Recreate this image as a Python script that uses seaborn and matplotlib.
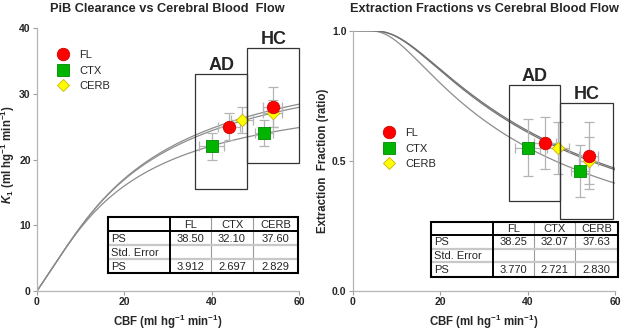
import numpy as np
import pandas as pd
import seaborn as sns
import matplotlib
matplotlib.use("Agg")
import matplotlib.pyplot as plt
from matplotlib.lines import Line2D
from matplotlib.patches import Rectangle
import matplotlib.transforms as mtransforms

# ---------------- data ----------------
regions = ["FL", "CTX", "CERB"]
pt_group = ["AD", "AD", "AD", "HC", "HC", "HC"]
pt_region = ["FL", "CTX", "CERB", "FL", "CTX", "CERB"]
pt_cbf = [44.0, 40.0, 46.9, 54.0, 52.0, 54.0]
pt_cbf_err = [2.5, 2.8, 2.5, 2.2, 2.1, 2.2]
pt_k1 = [25.0, 22.0, 26.0, 28.0, 24.0, 27.0]
pt_k1_err = [2.0, 2.0, 2.0, 3.0, 2.0, 2.0]
pt_ef = [0.57, 0.55, 0.55, 0.52, 0.46, 0.50]
pt_ef_err = [0.10, 0.11, 0.10, 0.13, 0.10, 0.09]

ps_k1 = [38.50, 32.10, 37.60]
se_k1 = [3.912, 2.697, 2.829]
ps_ef = [38.25, 32.07, 37.63]
se_ef = [3.770, 2.721, 2.830]

# group boxes (CBF range, value range)
box_groups = ["AD", "HC"]
k1_box_x = [(36.2, 48.2), (48.2, 60.1)]
k1_box_y = [(15.5, 33.0), (19.4, 37.0)]
ef_box_x = [(35.7, 47.5), (47.5, 59.5)]
ef_box_y = [(0.347, 0.791), (0.277, 0.721)]

# ---------------- style ----------------
sns.set_style("ticks")
plt.rcParams["font.family"] = ["Liberation Sans", "DejaVu Sans"]
plt.rcParams["mathtext.fontset"] = "custom"
plt.rcParams["mathtext.rm"] = "Liberation Sans:bold"
plt.rcParams["mathtext.it"] = "Liberation Sans:italic:bold"
plt.rcParams["mathtext.bf"] = "Liberation Sans:bold"

colors = {"FL": "#ff0000", "CTX": "#00b400", "CERB": "#ffff00"}
edges = {"FL": "#d00000", "CTX": "#008a00", "CERB": "#c8b400"}
markers = {"FL": "o", "CTX": "s", "CERB": "D"}
msize = {"FL": 80, "CTX": 85, "CERB": 40}

W, H = 624, 330
fig = plt.figure(figsize=(W / 100, H / 100), dpi=100)
ax1 = fig.add_axes([37 / W, 1 - 291 / H, 262 / W, 263 / H])
ax2 = fig.add_axes([352.7 / W, 1 - 291 / H, 262.3 / W, 260.3 / H])

pts = pd.DataFrame({"group": pt_group, "region": pt_region, "CBF": pt_cbf,
                    "CBF_err": pt_cbf_err, "K1": pt_k1, "K1_err": pt_k1_err,
                    "EF": pt_ef, "EF_err": pt_ef_err})

F = np.linspace(0.05, 60, 400)
curve_rows = []
for r, pk, pe in zip(regions, ps_k1, ps_ef):
    for f in F:
        curve_rows.append({"region": r, "CBF": f,
                           "K1": f * (1 - np.exp(-pk / f)),
                           "EF": 1 - np.exp(-pe / f)})
curves = pd.DataFrame(curve_rows)

TICK_FS = 7.5


def draw_panel(ax, ycol, ecol, box_x, box_y, line_colors):
    sns.lineplot(data=curves, x="CBF", y=ycol, hue="region",
                 palette=line_colors, legend=False, ax=ax, lw=0.9, zorder=2)
    ax.errorbar(pts["CBF"], pts[ycol], xerr=pts["CBF_err"], yerr=pts[ecol],
                fmt="none", ecolor="#b4b4b4", elinewidth=0.9, capsize=3.6,
                capthick=0.9, zorder=3)
    for r in ["CERB", "CTX", "FL"]:
        sub = pts[pts["region"] == r]
        sns.scatterplot(data=sub, x="CBF", y=ycol, marker=markers[r],
                        color=colors[r], edgecolor=edges[r], linewidth=0.6,
                        s=msize[r], ax=ax, zorder=4, legend=False)
    for g, (x0, x1), (y0, y1) in zip(box_groups, box_x, box_y):
        ax.add_patch(Rectangle((x0, y0), x1 - x0, y1 - y0, fill=False,
                               edgecolor="#333333", lw=0.9, zorder=5,
                               clip_on=False))
        ax.annotate(g, xy=((x0 + x1) / 2, y1), xytext=(0, 3),
                    textcoords="offset points", ha="center", va="baseline",
                    fontsize=13, fontweight="bold", annotation_clip=False)
    ax.set_xlim(0, 60)
    ax.set_xticks([0, 20, 40, 60])
    sns.despine(ax=ax)
    for s in ["left", "bottom"]:
        ax.spines[s].set_color("#b5b5b5")
        ax.spines[s].set_linewidth(0.9)
    ax.tick_params(length=3, width=0.8, color="#a0a0a0", labelsize=TICK_FS,
                   pad=1.5)
    ax.set_xlabel(r"CBF (ml hg$^{-1}$ min$^{-1}$)", fontsize=8.3,
                  fontweight="bold")


draw_panel(ax1, "K1", "K1_err", k1_box_x, k1_box_y,
           {"FL": "#8c8c8c", "CTX": "#8c8c8c", "CERB": "#8c8c8c"})
ax1.set_ylim(0, 40)
ax1.set_yticks([0, 10, 20, 30, 40])
ax1.set_ylabel(r"$K_1$ (ml hg$^{-1}$ min$^{-1}$)", fontsize=8.3,
               fontweight="bold")
ax1.xaxis.set_label_coords(0.5, -0.084)
ax1.yaxis.set_label_coords(-0.076, 0.52)

draw_panel(ax2, "EF", "EF_err", ef_box_x, ef_box_y,
           {"FL": "#707070", "CTX": "#8c8c8c", "CERB": "#707070"})
ax2.set_ylim(0, 1.0)
ax2.set_yticks([0.0, 0.5, 1.0])
ax2.set_yticklabels(["0.0", "0.5", "1.0"])
ax2.set_ylabel("Extraction  Fraction (ratio)", fontsize=8.3, fontweight="bold")
ax2.xaxis.set_label_coords(0.5, -0.085)
ax2.yaxis.set_label_coords(-0.09, 0.5)

for ax in (ax1, ax2):
    for lbl in ax.get_xticklabels() + ax.get_yticklabels():
        lbl.set_fontweight("bold")

# legends
handles = [Line2D([], [], ls="none", marker=markers[r], markersize=np.sqrt(msize[r]),
                  markerfacecolor=colors[r], markeredgecolor=edges[r],
                  markeredgewidth=0.6, label=r) for r in regions]
for ax, anchor in [(ax1, (0.079, 0.916)), (ax2, (0.119, 0.626))]:
    ax.legend(handles=handles, loc="upper left", bbox_to_anchor=anchor,
              frameon=False, borderpad=0, borderaxespad=0, handlelength=1.0,
              handletextpad=0.95, labelspacing=0.5, fontsize=8)

# titles
fig.text(167 / W, 1 - 12.5 / H, "PiB Clearance vs Cerebral Blood  Flow",
         ha="center", va="baseline", fontsize=9.2, fontweight="bold")
fig.text(484 / W, 1 - 12.5 / H, "Extraction Fractions vs Cerebral Blood Flow",
         ha="center", va="baseline", fontsize=9.2, fontweight="bold")

# tables
T = mtransforms.Affine2D().scale(1 / W, -1 / H).translate(0, 1) + fig.transFigure


def draw_table(xs, ys, ps, se, fmt_ps, fmt_se):
    rows = [[""] + regions,
            ["PS"] + [fmt_ps.format(v) for v in ps],
            ["Std. Error", "", "", ""],
            ["PS"] + [fmt_se.format(v) for v in se]]
    fig.add_artist(Rectangle((xs[0], ys[0]), xs[-1] - xs[0], ys[-1] - ys[0],
                             transform=T, facecolor="white", edgecolor="none",
                             zorder=5))
    for x in xs[2:4]:
        fig.add_artist(Line2D([x, x], [ys[0], ys[-1]], transform=T,
                              color="#9a9a9a", lw=0.8, zorder=6))
    for y in ys[2:4]:
        fig.add_artist(Line2D([xs[0], xs[-1]], [y, y], transform=T,
                              color="#c8c8c8", lw=1.6, zorder=6))
    fig.add_artist(Line2D([xs[0], xs[-1]], [ys[1], ys[1]], transform=T,
                          color="black", lw=1.4, zorder=7))
    fig.add_artist(Line2D([xs[1], xs[1]], [ys[0], ys[-1]], transform=T,
                          color="black", lw=1.4, zorder=7))
    fig.add_artist(Rectangle((xs[0], ys[0]), xs[-1] - xs[0], ys[-1] - ys[0],
                             transform=T, facecolor="none", edgecolor="black",
                             lw=1.5, zorder=8))
    for i, row in enumerate(rows):
        yc = (ys[i] + ys[i + 1]) / 2
        for j, txt in enumerate(row):
            if not txt:
                continue
            if j == 0:
                fig.text(xs[0] + 3, yc + 0.5, txt, transform=T, ha="left",
                         va="center", fontsize=8, zorder=9)
            else:
                fig.text((xs[j] + xs[j + 1]) / 2, yc + 0.5, txt, transform=T,
                         ha="center", va="center", fontsize=8, zorder=9)


draw_table([108, 170, 211, 253, 298], [217, 231, 245, 259, 273],
           ps_k1, se_k1, "{:.2f}", "{:.3f}")
draw_table([431, 493, 534, 575, 618], [222, 234.5, 248.5, 262, 277],
           ps_ef, se_ef, "{:.2f}", "{:.3f}")

fig.savefig("out.png", dpi=100)
